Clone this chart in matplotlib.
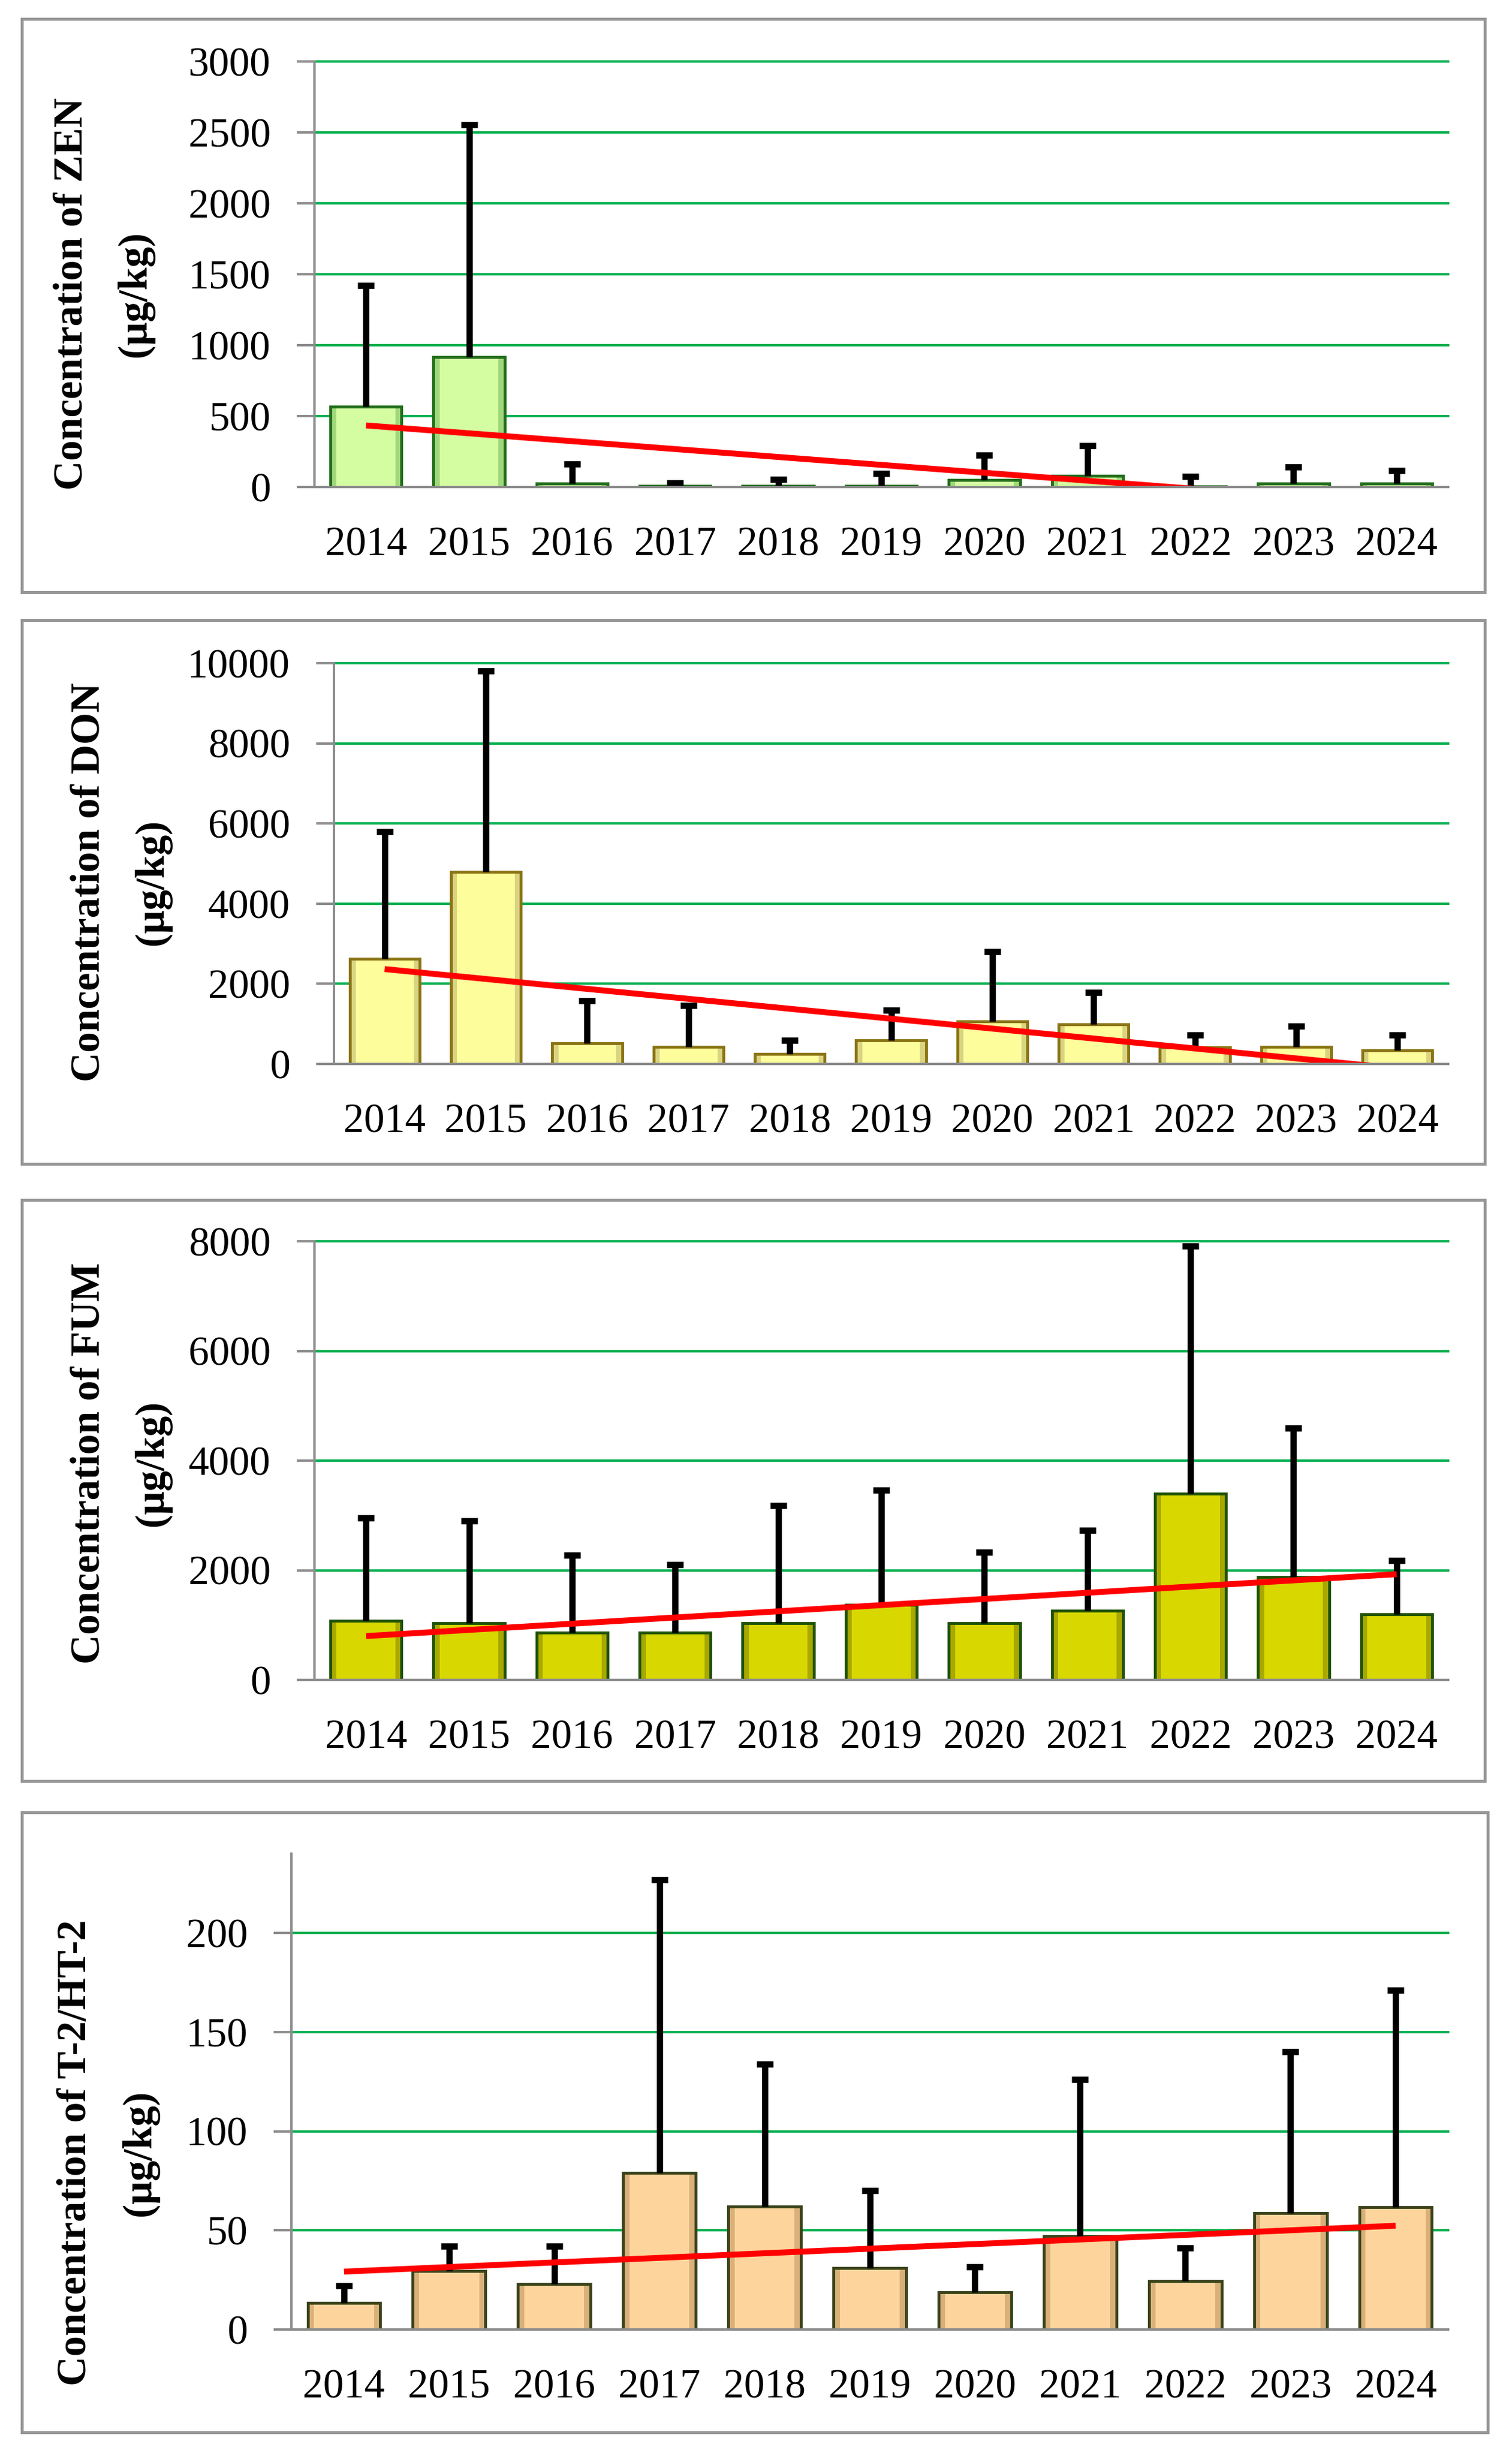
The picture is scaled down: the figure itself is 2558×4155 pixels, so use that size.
import numpy as np
import matplotlib.pyplot as plt
from matplotlib.patches import Rectangle

years = ['2014', '2015', '2016', '2017', '2018', '2019', '2020', '2021', '2022', '2023', '2024']

# mean and mean+SD (top of the error bar), ug/kg
zen_mean = [565, 915, 27, 8, 8, 8, 50, 80, 6, 27, 27]
zen_upper = [1421, 2554, 163, 30, 54, 95, 226, 291, 76, 141, 117]

don_mean = [2620, 4790, 520, 430, 250, 590, 1060, 990, 410, 430, 340]
don_upper = [5796, 9810, 1582, 1456, 588, 1338, 2803, 1790, 723, 949, 723]

fum_mean = [1080, 1030, 860, 860, 1030, 1370, 1030, 1260, 3400, 1880, 1200]
fum_upper = [2953, 2904, 2277, 2103, 3182, 3461, 2333, 2723, 7917, 4589, 2173]

t2_mean = [13.5, 29.5, 23, 79, 62, 31, 18.7, 47, 24.5, 58.6, 61.7]
t2_upper = [22, 42, 42, 227, 134, 70, 31.6, 126, 41, 140, 171]

W, H = 2558, 4155
fig = plt.figure(figsize=(W / 100, H / 100), dpi=100)

SERIF = 'Liberation Serif'
GRID = '#00b050'
AXC = '#8c8c8c'

# panel layout in pixels: axes (left, right, top, bottom), box (x0, y0, x1, y1), label x's, label y
panels = [
    dict(name='ZEN', mean=zen_mean, upper=zen_upper, ylim=3000, ticks=np.arange(0, 3001, 500),
         fill='#d4fda2', side='#9fd77a', edge='#236e1c', ax=(532, 2450, 104, 824),
         box=(37, 32, 2512, 1002), lx=(122, 229), ly=497),
    dict(name='DON', mean=don_mean, upper=don_upper, ylim=10000, ticks=np.arange(0, 10001, 2000),
         fill='#fdfd9c', side='#d9d482', edge='#8a7414', ax=(565, 2450, 1122, 1800),
         box=(37, 1049, 2512, 1969), lx=(151, 258), ly=1492),
    dict(name='FUM', mean=fum_mean, upper=fum_upper, ylim=8000, ticks=np.arange(0, 8001, 2000),
         fill='#d8d800', side='#a8a800', edge='#1f5208', ax=(532, 2450, 2100, 2842),
         box=(37, 2030, 2512, 3013), lx=(151, 258), ly=2475),
    dict(name='T-2/HT-2', mean=t2_mean, upper=t2_upper, ylim=240, ticks=np.arange(0, 201, 50),
         fill='#fdd59c', side='#d9b07a', edge='#3a431a', ax=(493, 2450, 3136, 3941),
         box=(37, 3066, 2517, 4115), lx=(128, 237), ly=3642),
]

x = np.arange(len(years))
bw = 0.69
sw = 0.06

for p in panels:
    l, r, t, b = p['ax']
    ax = fig.add_axes([l / W, 1 - b / H, (r - l) / W, (b - t) / H])
    means = np.array(p['mean'], dtype=float)
    upper = np.array(p['upper'], dtype=float)

    ax.bar(x, means, width=bw, color=p['fill'], edgecolor='none', zorder=3)
    # bevel-like darker strips on both sides
    ax.bar(x - bw / 2 + sw / 2, means, width=sw, color=p['side'], edgecolor='none', zorder=3)
    ax.bar(x + bw / 2 - sw / 2, means, width=sw, color=p['side'], edgecolor='none', zorder=3)
    ax.bar(x, means, width=bw, color='none', edgecolor=p['edge'], linewidth=3.5, zorder=3)

    _, caps, _ = ax.errorbar(x, means, yerr=[np.zeros(len(x)), upper - means], fmt='none',
                             ecolor='black', elinewidth=7.6, capsize=10, capthick=7.6, zorder=4)
    caps[0].set_visible(False)

    coef = np.polyfit(x, means, 1)
    ax.plot([x[0], x[-1]], np.polyval(coef, [x[0], x[-1]]), color='#ff0000', lw=7.2,
            solid_capstyle='butt', zorder=5)

    ax.set_xlim(-0.5, len(x) - 0.5)
    ax.set_ylim(0, p['ylim'])
    ax.set_yticks(p['ticks'])
    ax.set_xticks(x)
    ax.set_xticklabels(years)
    ax.yaxis.grid(True, color=GRID, lw=2.9)
    for gl in ax.get_ygridlines():
        gl.set_clip_on(False)
    ax.set_axisbelow(True)

    for s in ['top', 'right']:
        ax.spines[s].set_visible(False)
    for s in ['left', 'bottom']:
        ax.spines[s].set_color(AXC)
        ax.spines[s].set_linewidth(2.9)
        ax.spines[s].set_zorder(6)
    ax.tick_params(axis='y', length=21.6, width=2.9, color=AXC, pad=31.7)
    ax.tick_params(axis='x', length=0, pad=48)
    for lab in ax.get_xticklabels() + ax.get_yticklabels():
        lab.set_fontfamily(SERIF)
        lab.set_fontsize(50)

    fig.text(p['lx'][0] / W, 1 - p['ly'] / H, 'Concentration of ' + p['name'], rotation=90,
             ha='center', va='center', fontsize=50, fontweight='bold', family=SERIF)
    fig.text(p['lx'][1] / W, 1 - p['ly'] / H, '(μg/kg)', rotation=90,
             ha='center', va='center', fontsize=50, fontweight='bold', family=SERIF)

    x0, y0, x1, y1 = p['box']
    fig.add_artist(Rectangle((x0 / W, 1 - y1 / H), (x1 - x0) / W, (y1 - y0) / H,
                             transform=fig.transFigure, fill=False, ec='#969696', lw=3.6))

fig.savefig('out.png', dpi=100, facecolor='white')
